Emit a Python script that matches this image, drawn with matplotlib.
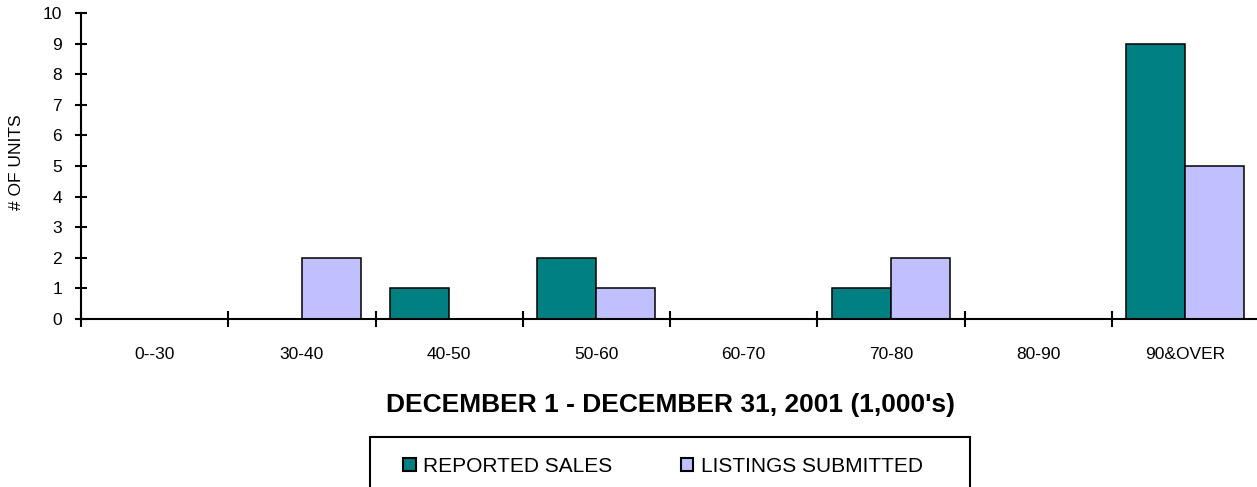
import numpy as np
import matplotlib
matplotlib.use('Agg')
import matplotlib.pyplot as plt
from matplotlib.patches import Patch, Rectangle

plt.rcParams['font.family'] = ['Liberation Sans', 'DejaVu Sans']

# Data
categories = ['0--30', '30-40', '40-50', '50-60', '60-70', '70-80', '80-90', '90&OVER']
reported_sales = [0, 0, 1, 2, 0, 1, 0, 9]
listings_submitted = [0, 2, 0, 1, 0, 2, 0, 5]
yticks = list(range(0, 11))

teal = '#008080'
lavender = '#C0C0FF'

W, H = 1257, 487
fig = plt.figure(figsize=(W / 100, H / 100), dpi=100)
ax = fig.add_axes([81 / W, 1 - 319 / H, 1178 / W, (319 - 13) / H])

x = np.arange(len(categories))
bw = 0.4
ax.bar(x - bw / 2, reported_sales, bw, color=teal, edgecolor='black', linewidth=1.1, zorder=2)
ax.bar(x + bw / 2, listings_submitted, bw, color=lavender, edgecolor='black', linewidth=1.1, zorder=2)

ax.set_xlim(-0.5, len(categories) - 0.5)
ax.set_ylim(0, 10)

for s in ['top', 'right']:
    ax.spines[s].set_visible(False)
for s in ['left', 'bottom']:
    ax.spines[s].set_linewidth(1.5)
    ax.spines[s].set_zorder(3)
ax.spines['left'].set_bounds(0, 10)

ax.set_yticks(yticks)
ax.tick_params(axis='y', direction='inout', length=8.6, width=1.5, pad=9.4, labelsize=12.5)

# labels at category centres, tick marks at boundaries
ax.set_xticks(x)
ax.set_xticklabels(categories)
ax.tick_params(axis='x', which='major', length=0, pad=20, labelsize=12.5)
ax.set_xticks(np.arange(-0.5, len(categories) - 0.5, 1.0), minor=True)
ax.tick_params(axis='x', which='minor', direction='inout', length=11, width=1.5)

fig.text(17 / W, 1 - 162 / H, '# OF UNITS', rotation=90, ha='center', va='center', fontsize=12.5)
fig.text(670 / W, 1 - 412 / H, "DECEMBER 1 - DECEMBER 31, 2001 (1,000's)",
         ha='center', va='baseline', fontsize=19, fontweight='bold')

# legend box (runs off the bottom edge)
fig.patches.append(Rectangle((370 / W, -0.1), 600 / W, 0.1 + (1 - 437 / H), transform=fig.transFigure,
                             fill=False, edgecolor='black', linewidth=1.5))
handles = [Patch(facecolor=teal, edgecolor='black', linewidth=1.5),
           Patch(facecolor=lavender, edgecolor='black', linewidth=1.5)]
fig.legend(handles, ['REPORTED SALES', 'LISTINGS SUBMITTED'], loc='center left',
           bbox_to_anchor=(403 / W, 1 - 466 / H), ncol=2, frameon=False, fontsize=15,
           borderpad=0, borderaxespad=0, handlelength=0.6, handleheight=0.6,
           handletextpad=0.35, columnspacing=3.3)

fig.savefig('out.png', dpi=100)
